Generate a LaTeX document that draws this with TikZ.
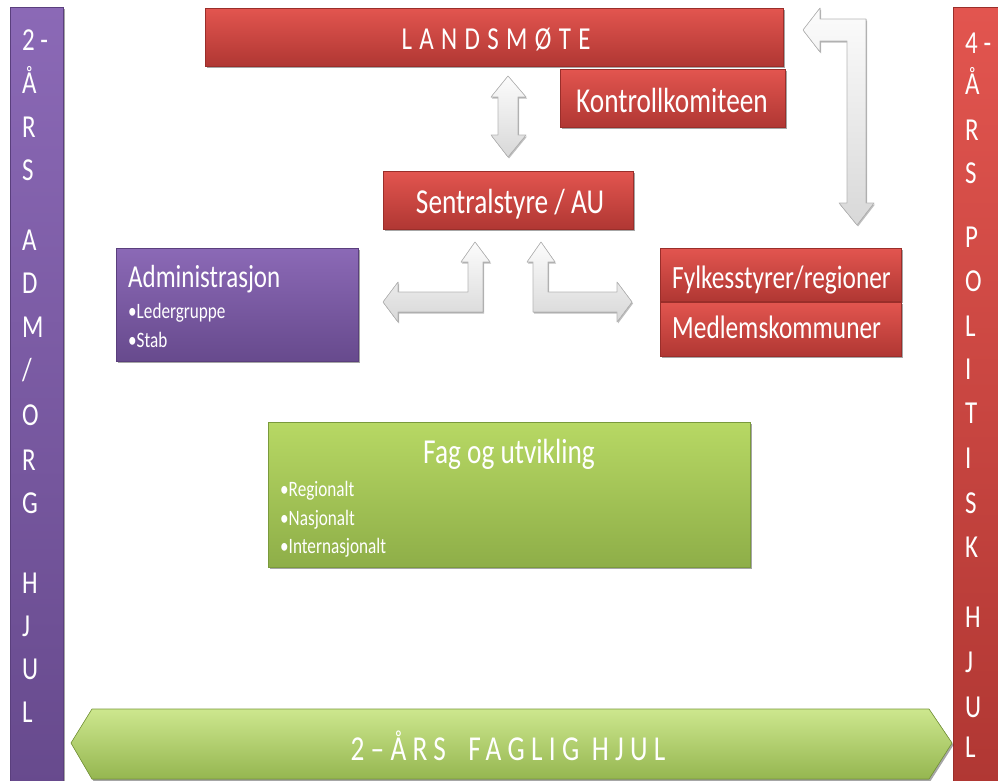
\documentclass[tikz,border=0pt]{standalone}
\usepackage{fontspec}
\setmainfont{Carlito}[FakeStretch=0.78]
\newfontfamily\spacedfont{Carlito}[FakeStretch=0.78, LetterSpace=23]
\newfontfamily\bannerfont{Carlito}[FakeStretch=0.78, LetterSpace=18]
\usetikzlibrary{shadows}
\definecolor{redtop}{HTML}{E2554F}
\definecolor{redbot}{HTML}{B03733}
\definecolor{rededge}{HTML}{9A2E2A}
\definecolor{purtop}{HTML}{8B69B6}
\definecolor{purbot}{HTML}{674A8D}
\definecolor{puredge}{HTML}{5A3F7D}
\definecolor{grntop}{HTML}{B7D864}
\definecolor{grnbot}{HTML}{8EAE48}
\definecolor{grnedge}{HTML}{7A9A3C}
\definecolor{bantop}{HTML}{CDE78E}
\definecolor{banbot}{HTML}{95B650}
\definecolor{arrtop}{HTML}{FCFCFC}
\definecolor{arrbot}{HTML}{D8D8D8}
\definecolor{arredge}{HTML}{B5B5B5}
\begin{document}
\begin{tikzpicture}[x=1pt,y=-1pt,
  shadowed/.style={drop shadow={shadow xshift=1.5pt, shadow yshift=-2pt, opacity=0.35, fill=black}},
  basebox/.style={rectangle, inner sep=0pt, anchor=north west, line width=0.6pt, shadowed},
  redbox/.style={basebox, top color=redtop, bottom color=redbot, draw=rededge},
  purbox/.style={basebox, top color=purtop, bottom color=purbot, draw=puredge},
  grnbox/.style={basebox, top color=grntop, bottom color=grnbot, draw=grnedge},
  lbl/.style={inner sep=0pt, text=white},
  title/.style={lbl, font=\fontsize{35}{42}\selectfont},
  sub/.style={lbl, anchor=base west, font=\fontsize{22}{26}\selectfont},
  barletter/.style={lbl, anchor=base west, font=\fontsize{32}{38}\selectfont},
  blockarrow/.style={top color=arrtop, bottom color=arrbot, draw=arredge, line width=0.6pt, line join=round,
     drop shadow={shadow xshift=1pt, shadow yshift=-1.5pt, opacity=0.25, fill=black}}
]
\useasboundingbox (0,0) rectangle (998,780);

% side bars
\node[purbox, minimum width=53pt, minimum height=780pt] (leftbar) at (10,7) {};
\node[redbox, minimum width=50pt, minimum height=780pt] (rightbar) at (953,7) {};

\foreach \t/\yy [count=\i] in {{2 -}/50, Å/93, R/137, S/180, A/250, D/293, M/337, {/}/380, O/425, R/470, G/513, H/593, J/636, U/679, L/722}
  \node[barletter] (lb\i) at (22,\yy) {\t};

\foreach \t/\yy [count=\i] in {{4 -}/53, Å/94, R/140, S/183, P/247, O/291, L/336, I/379, T/423, I/468, S/513, K/557, H/627, J/672, U/717, L/757}
  \node[barletter] (rb\i) at (965,\yy) {\t};

% bottom banner
\fill[top color=bantop, bottom color=banbot, draw=grnedge, line width=0.6pt, shadowed]
  (71,743) -- (92,709) -- (929,709) -- (952,743) -- (929,779) -- (92,779) -- cycle;
\node[lbl, anchor=base, font=\bannerfont\fontsize{35}{42}\selectfont] (banner) at (508,760) {2–ÅRS\hspace{10pt} FAGLIG HJUL};

% red boxes
\node[redbox, minimum width=578pt, minimum height=58pt] (lands) at (205,8) {};
\node[title, anchor=base, font=\spacedfont\fontsize{32}{40}\selectfont] (landsT) at (496,49) {LANDSMØTE};

\node[redbox, minimum width=225pt, minimum height=58pt] (kontroll) at (560,69) {};
\node[title, anchor=base] (kontrollT) at (672,112) {Kontrollkomiteen};

\node[redbox, minimum width=250pt, minimum height=58pt] (sentral) at (383,171) {};
\node[title, anchor=base] (sentralT) at (510,213) {Sentralstyre / AU};

\node[redbox, minimum width=241pt, minimum height=53pt] (fylke) at (660,248) {};
\node[title, anchor=base west, font=\fontsize{32.5}{40}\selectfont] (fylkeT) at (672,288) {Fylkesstyrer/regioner};
\node[redbox, minimum width=241pt, minimum height=54pt] (medlem) at (660,302) {};
\node[title, anchor=base west, font=\fontsize{32.5}{40}\selectfont] (medlemT) at (672,338) {Medlemskommuner};

% purple box
\node[purbox, minimum width=242pt, minimum height=113pt] (admin) at (116,248) {};
\node[title, anchor=base west, font=\fontsize{32}{38}\selectfont] (adminT) at (128,287) {Administrasjon};
\node[sub] (adminA) at (128,318) {•Ledergruppe};
\node[sub] (adminB) at (128,347) {•Stab};

% green box
\node[grnbox, minimum width=482pt, minimum height=145pt] (fag) at (268,422) {};
\node[title, anchor=base] (fagT) at (509,463) {Fag og utvikling};
\node[sub] (fagA) at (280,496) {•Regionalt};
\node[sub] (fagB) at (280,525) {•Nasjonalt};
\node[sub] (fagC) at (280,553) {•Internasjonalt};

% block arrows
\filldraw[blockarrow] (508,76) -- (526,97) -- (518,97) -- (518,135) -- (526,135) -- (508,157)
  -- (491,135) -- (498,135) -- (498,97) -- (491,97) -- cycle;
\filldraw[blockarrow] (475,242) -- (490,262) -- (483,262) -- (483,312) -- (398,312) -- (398,322)
  -- (383,302) -- (398,282) -- (398,292) -- (468,292) -- (468,262) -- (461,262) -- cycle;
\filldraw[blockarrow] (541,242) -- (555,262) -- (548,262) -- (548,292) -- (617,292) -- (617,282)
  -- (632,302) -- (617,322) -- (617,312) -- (533,312) -- (533,262) -- (527,262) -- cycle;
\filldraw[blockarrow] (803,30) -- (820,8) -- (820,19) -- (866,19) -- (866,203) -- (874,203)
  -- (857,225) -- (839,203) -- (847,203) -- (847,41) -- (820,41) -- (820,52) -- cycle;
\end{tikzpicture}
\end{document}
